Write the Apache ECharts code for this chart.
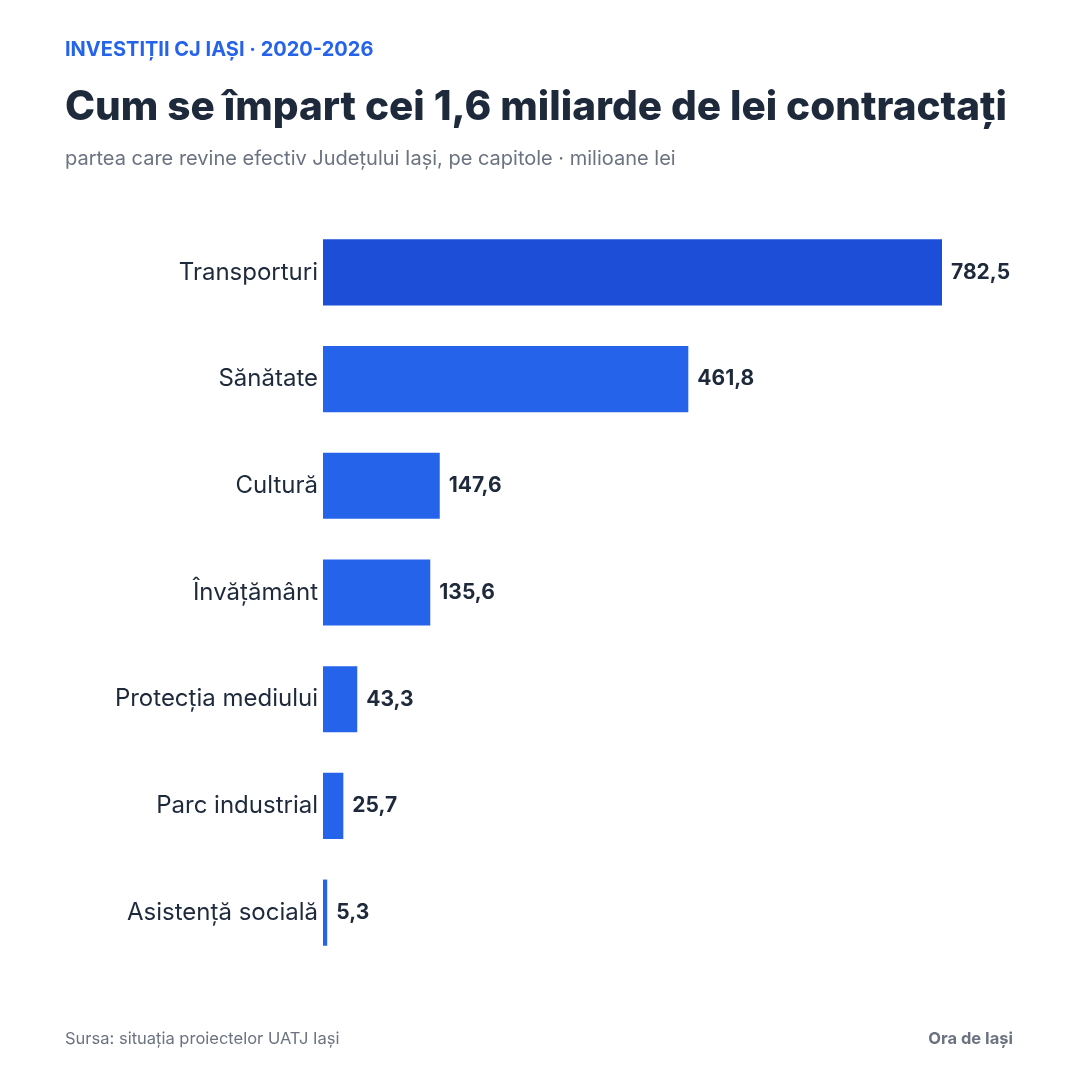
<!DOCTYPE html>
<html><head><meta charset="utf-8">
<script src="https://cdn.jsdelivr.net/npm/echarts@6/dist/echarts.min.js"></script>
<style>html,body{margin:0;padding:0;background:#fff}#c{width:1078px;height:1078px}</style>
</head><body><div id="c"></div>
<script>
const categories = ['Transporturi', 'Sănătate', 'Cultură', 'Învățământ', 'Protecția mediului', 'Parc industrial', 'Asistență socială'];
const values = [782.5, 461.8, 147.6, 135.6, 43.3, 25.7, 5.3];
const barColors = ['#1d4ed8', '#2563eb', '#2563eb', '#2563eb', '#2563eb', '#2563eb', '#2563eb'];

const font = 'Inter, "Noto Sans", sans-serif';
const chart = echarts.init(document.getElementById('c'));
chart.setOption({
    backgroundColor: '#fff',
    textStyle: { fontFamily: font },
    grid: { left: 323, right: 136, top: 219, bottom: 112, containLabel: false },
    xAxis: { type: 'value', min: 0, max: 782.5, show: false },
    yAxis: {
        type: 'category', inverse: true, data: categories,
        axisLine: { show: false }, axisTick: { show: false },
        axisLabel: { color: '#1e293b', fontSize: 24, margin: 5, fontFamily: font }
    },
    series: [{
        type: 'bar', barCategoryGap: '38%',
        data: values.map((v, i) => ({ value: v, itemStyle: { color: barColors[i] } })),
        label: {
            show: true, position: 'right', distance: 9, color: '#1e293b',
            fontSize: 21, fontWeight: 'bold', fontFamily: font,
            formatter: p => p.value.toFixed(1).replace('.', ',')
        },
        animation: false
    }],
    graphic: [
        { type: 'text', left: 65, top: 40, style: { text: 'INVESTIȚII CJ IAȘI · 2020-2026', fill: '#2563eb', font: 'bold 20px ' + font } },
        { type: 'text', left: 65, top: 87, style: { text: 'Cum se împart cei 1,6 miliarde de lei contractați', fill: '#1e293b', font: '800 40.5px ' + font } },
        { type: 'text', left: 65, top: 149, style: { text: 'partea care revine efectiv Județului Iași, pe capitole · milioane lei', fill: '#6b7280', font: '20px ' + font } },
        { type: 'text', left: 65, top: 1031, style: { text: 'Sursa: situația proiectelor UATJ Iași', fill: '#6b7280', font: '16.5px ' + font } },
        { type: 'text', right: 65, top: 1031, style: { text: 'Ora de Iași', fill: '#6b7280', font: 'bold 16.5px ' + font } }
    ]
});
</script></body></html>
